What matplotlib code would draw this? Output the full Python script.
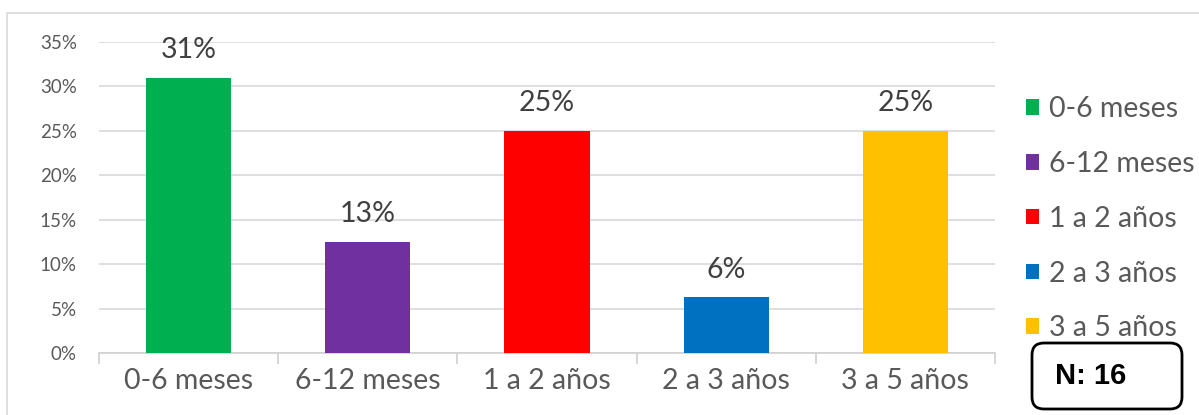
import matplotlib
matplotlib.use("Agg")
import matplotlib.pyplot as plt
from matplotlib.patches import Patch, FancyBboxPatch, Rectangle
from matplotlib.transforms import IdentityTransform

# datos
categorias = ["0-6 meses", "6-12 meses", "1 a 2 años", "2 a 3 años", "3 a 5 años"]
valores = [0.31, 0.125, 0.25, 0.0625, 0.25]
colores = ["#00B050", "#7030A0", "#FF0000", "#0070C0", "#FFC000"]
etiquetas_y = ["0%", "5%", "10%", "15%", "20%", "25%", "30%", "35%"]
n_total = "N: 16"

plt.rcParams['font.family'] = ['Lato', 'DejaVu Sans']
gris = "#595959"

fig = plt.figure(figsize=(11.99, 4.15), dpi=100)
ax = fig.add_axes([99/1199, 1 - 353/415, (995 - 99)/1199, (353 - 42)/415])

x = range(len(categorias))
barras = ax.bar(x, valores, width=0.475, color=colores, zorder=3)
for xi, v in zip(x, valores):
    ax.annotate(f"{int(v*100 + 0.5)}%", (xi, v), xytext=(0, 10.5), textcoords="offset points",
                ha="center", va="bottom", fontsize=20.5, color="#404040")

ax.set_xlim(-0.5, len(categorias) - 0.5)
ax.set_ylim(0, 0.35)
ax.set_yticks([i * 0.05 for i in range(len(etiquetas_y))])
ax.set_yticklabels(etiquetas_y)
ax.set_xticks(list(x))
ax.set_xticklabels(categorias)
ax.set_xticks([i - 0.5 for i in range(len(categorias) + 1)], minor=True)

ax.grid(axis="y", color="#d9d9d9", linewidth=1.2, zorder=0)
for s in ["top", "right", "left"]:
    ax.spines[s].set_visible(False)
ax.spines["bottom"].set_color("#d0d0d0")
ax.spines["bottom"].set_linewidth(1.2)
ax.tick_params(axis="y", length=0, pad=16, labelsize=13.5, labelcolor=gris)
ax.tick_params(axis="x", which="major", length=0, pad=11, labelsize=20.5, labelcolor=gris)
ax.tick_params(axis="x", which="minor", length=8, width=1.2, color="#d0d0d0")

handles = [Patch(facecolor=c, label=l) for c, l in zip(colores, categorias)]
leg = fig.legend(handles=handles, loc="upper left", bbox_to_anchor=(1012/1199, 1 - 82/415),
                 frameon=False, fontsize=20.5, handlelength=0.45, handleheight=0.45,
                 handletextpad=0.35, labelspacing=1.01, borderpad=0)
for t in leg.get_texts():
    t.set_color(gris)

# borde exterior
fig.add_artist(Rectangle((7, -10), 1250, 10 + 415 - 13, transform=IdentityTransform(),
                         fill=False, edgecolor="#d9d9d9", linewidth=1.2))

# cuadro N
fig.add_artist(FancyBboxPatch((1032, 6), 150, 66, boxstyle="round,pad=0,rounding_size=12",
                              transform=IdentityTransform(), facecolor="white",
                              edgecolor="black", linewidth=2))
fig.text(1055, 39, n_total, transform=IdentityTransform(), fontsize=21, fontweight="bold",
         family="Liberation Sans", va="center", ha="left", color="black")

fig.savefig("out.png", dpi=100)
